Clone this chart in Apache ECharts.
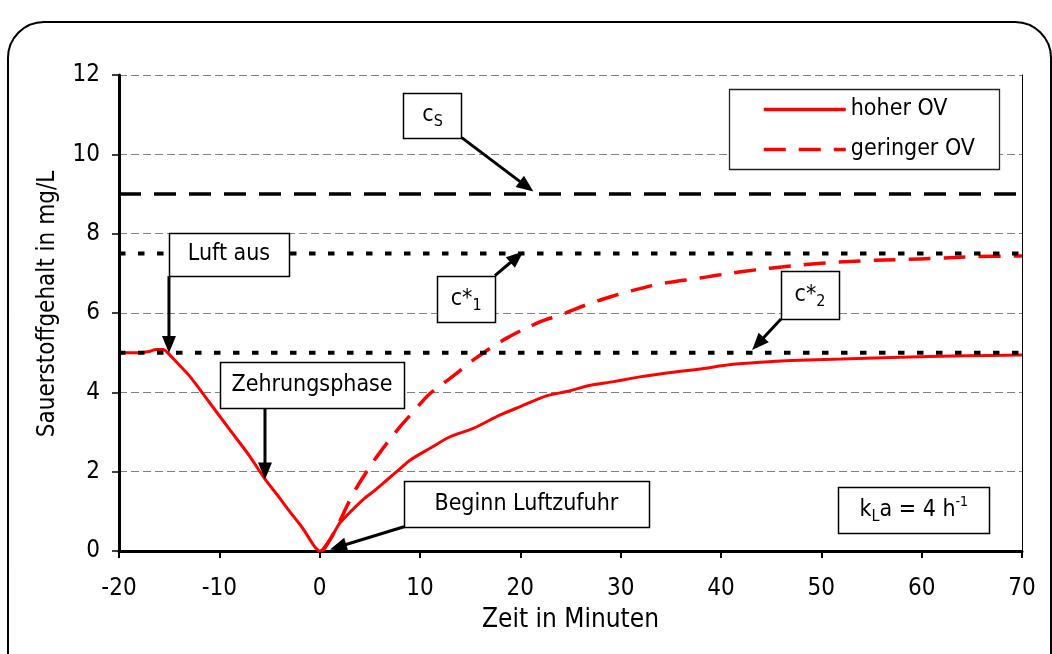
<!DOCTYPE html>
<html>
<head>
<meta charset="utf-8">
<script src="https://cdn.jsdelivr.net/npm/echarts@6/dist/echarts.min.js"></script>
<style>
  html, body { margin: 0; padding: 0; background: #fff; }
  #chart { width: 1052px; height: 654px; }
</style>
</head>
<body>
<div id="chart"></div>
<script>
const FONT = "'DejaVu Sans Condensed', 'Liberation Sans', sans-serif";

// Oxygen concentration after switching off aeration and restarting it (t = 0)
const seriesNames = ['hoher OV', 'geringer OV'];

const timeHigh = [-20, -18, -17, -16.3, -15.6, -15.1, -14.3, -13, -11, -9,
  -7, -5.5, -4, -3, -2, -1.5, -1, -0.5, 0, 0.4,
  1, 2, 3, 4.3, 5.5, 6.7, 8, 9, 11, 13,
  15.3, 18, 20, 22.6, 24.6, 27, 29.3, 31.9, 35, 38,
  41, 44, 47, 52, 57, 64.5, 70];
const oxygenHigh = [5.0, 5.0, 5.03, 5.08, 5.08, 4.98, 4.77, 4.42, 3.75, 3.07,
  2.4, 1.83, 1.34, 1.0, 0.68, 0.5, 0.3, 0.11, 0.0, 0.03,
  0.26, 0.7, 0.97, 1.29, 1.53, 1.79, 2.07, 2.29, 2.59, 2.88,
  3.09, 3.43, 3.64, 3.91, 4.02, 4.18, 4.27, 4.39, 4.5, 4.59,
  4.7, 4.76, 4.8, 4.84, 4.88, 4.92, 4.94];

const timeLow = [0.2, 0.8, 1.4, 2.3, 3.35, 4.5, 5.7, 8, 9.2, 11,
  13, 14.5, 15.6, 18.6, 22, 24, 26.5, 29, 30.9, 34.3,
  37.9, 39.6, 42, 44.9, 48.5, 51.5, 54.5, 58.2, 61.5, 65.2, 70];
const oxygenLow = [0.0, 0.2, 0.45, 0.91, 1.45, 1.93, 2.38, 3.13, 3.47, 3.97,
  4.35, 4.65, 4.87, 5.36, 5.78, 5.95, 6.2, 6.41, 6.55, 6.75,
  6.88, 6.95, 7.04, 7.13, 7.22, 7.28, 7.32, 7.35, 7.38, 7.42, 7.44];

// Reference concentrations in mg/L
const saturation = 9.0;       // c_S
const equilibriumLow = 7.5;   // c*_1
const equilibriumHigh = 5.0;  // c*_2

const timeRange = [-20, 70];
const timeStep = 10;
const oxygenRange = [0, 12];
const oxygenStep = 2;

// Annotation callouts: box corners, arrow tail and arrow tip in data units
const notes = [
  { text: '{m|Luft aus}', box: [[-15.02, 8.02], [-3.06, 6.93]], from: [-15.02, 6.93], to: [-15.02, 4.99] },
  { text: '{m|c}{s|S}', box: [[8.34, 11.55], [14.16, 10.42]], from: [14.16, 10.42], to: [21.3, 9.06] },
  { text: '{m|c*}{s|1}', box: [[11.72, 6.94], [17.47, 5.78]], from: [17.47, 6.94], to: [20.3, 7.55] },
  { text: '{m|Zehrungsphase}', box: [[-9.93, 4.76], [8.41, 3.61]], from: [-5.45, 3.61], to: [-5.45, 1.8] },
  { text: '{m|Beginn Luftzufuhr}', box: [[8.41, 1.77], [32.79, 0.61]], from: [8.41, 0.61], to: [1.03, 0.04] },
  { text: '{m|c*}{s|2}', box: [[45.98, 7.06], [51.76, 5.85]], from: [45.98, 5.85], to: [43.1, 5.07] },
  { text: '{m|k}{s|L}{m|a = 4 h}{p|-1}', box: [[51.69, 1.62], [66.74, 0.45]] }
];

const pairs = (xs, ys) => xs.map((x, i) => [x, ys[i]]);
const flat = (v) => [[timeRange[0], v], [timeRange[1], v]];

const chart = echarts.init(document.getElementById('chart'), null, { renderer: 'canvas' });

const richText = {
  m: { fontSize: 23, fontFamily: FONT, color: '#000', lineHeight: 30, verticalAlign: 'middle' },
  s: { fontSize: 16, fontFamily: FONT, color: '#000', lineHeight: 16, verticalAlign: 'bottom' },
  p: { fontSize: 14, fontFamily: FONT, color: '#000', lineHeight: 14, verticalAlign: 'top' }
};

const refLine = (name, value, width, dash) => ({
  name, type: 'line', data: flat(value), symbol: 'none', silent: true, z: 4,
  lineStyle: { color: '#000', width, type: dash, cap: 'butt' }
});

chart.setOption({
  animation: false,
  backgroundColor: '#fff',
  textStyle: { fontFamily: FONT, color: '#000' },
  grid: { left: 119, right: 30, top: 75, bottom: 103, containLabel: false },
  legend: {
    data: seriesNames,
    orient: 'vertical',
    left: 762, top: 98,
    padding: 0,
    itemWidth: 82, itemHeight: 14, itemGap: 17,
    itemStyle: { opacity: 0 },
    lineStyle: { width: 3.5 },
    textStyle: { fontSize: 23, fontFamily: FONT, color: '#000', padding: [0, 0, 0, 0] }
  },
  xAxis: {
    type: 'value', min: timeRange[0], max: timeRange[1], interval: timeStep,
    name: 'Zeit in Minuten', nameLocation: 'middle', nameGap: 56,
    nameTextStyle: { fontSize: 26, fontFamily: FONT, color: '#000' },
    axisLine: { onZero: false, lineStyle: { color: '#000', width: 3 } },
    axisTick: { length: 7, lineStyle: { color: '#000', width: 2 } },
    axisLabel: { fontSize: 24, fontFamily: FONT, color: '#000', margin: 26 },
    splitLine: { show: false }
  },
  yAxis: [{
    type: 'value', min: oxygenRange[0], max: oxygenRange[1], interval: oxygenStep,
    name: 'Sauerstoffgehalt in mg/L', nameLocation: 'middle', nameGap: 59,
    nameTextStyle: { fontSize: 24, fontFamily: FONT, color: '#000', padding: [0, 0, 0, 18] },
    axisLine: { onZero: false, lineStyle: { color: '#000', width: 3 } },
    axisTick: { length: 7, lineStyle: { color: '#000', width: 1.5 } },
    axisLabel: { fontSize: 24, fontFamily: FONT, color: '#000', margin: 19 },
    splitLine: { lineStyle: { color: '#808080', width: 1, type: [8, 4] } }
  }, {
    type: 'value', position: 'right', min: oxygenRange[0], max: oxygenRange[1], interval: oxygenStep,
    axisLine: { show: true, onZero: false, lineStyle: { color: '#000', width: 1 } },
    axisTick: { show: false }, axisLabel: { show: false }, splitLine: { show: false }
  }],
  series: [
    {
      name: seriesNames[0], type: 'line', data: pairs(timeHigh, oxygenHigh),
      symbol: 'none', smooth: 0.3, z: 3,
      lineStyle: { color: '#ff0000', width: 3 }, itemStyle: { color: '#ff0000' }
    },
    {
      name: seriesNames[1], type: 'line', data: pairs(timeLow, oxygenLow),
      symbol: 'none', smooth: 0.35, z: 3,
      lineStyle: { color: '#ff0000', width: 3.5, type: [22, 13], cap: 'butt' }, itemStyle: { color: '#ff0000' }
    },
    refLine('cS', saturation, 3.5, [22, 13]),
    refLine('c*1', equilibriumLow, 4, [6.5, 12.5]),
    refLine('c*2', equilibriumHigh, 4, [6.5, 12.5])
  ]
});

// Callout boxes, arrows, legend frame and the outer rounded border
function toPx(p) { return chart.convertToPixel({ xAxisIndex: 0, yAxisIndex: 0 }, p); }

function arrow(a, b) {
  const dx = b[0] - a[0], dy = b[1] - a[1];
  const len = Math.hypot(dx, dy), ux = dx / len, uy = dy / len;
  const hl = 17, hw = 7;
  const bx = b[0] - ux * hl, by = b[1] - uy * hl;
  return [
    { type: 'line', z: 20, shape: { x1: a[0], y1: a[1], x2: bx + ux * 2, y2: by + uy * 2 },
      style: { stroke: '#000', lineWidth: 3 } },
    { type: 'polygon', z: 20, shape: { points: [[b[0], b[1]], [bx - uy * hw, by + ux * hw], [bx + uy * hw, by - ux * hw]] },
      style: { fill: '#000' } }
  ];
}

const elements = [];
notes.forEach((n) => {
  const p1 = toPx(n.box[0]), p2 = toPx(n.box[1]);
  if (n.from) elements.push(...arrow(toPx(n.from), toPx(n.to)));
  elements.push({
    type: 'rect', z: 30,
    shape: { x: Math.round(p1[0]) + 0.5, y: Math.round(p1[1]) + 0.5, width: Math.round(p2[0] - p1[0]), height: Math.round(p2[1] - p1[1]) },
    style: { fill: '#fff', stroke: '#000', lineWidth: 1.5 }
  });
  elements.push({
    type: 'text', z: 31,
    x: (p1[0] + p2[0]) / 2, y: (p1[1] + p2[1]) / 2,
    style: { text: n.text, rich: richText, align: 'center', verticalAlign: 'middle' }
  });
});

// Legend frame
elements.push({
  type: 'rect', z: 1,
  shape: { x: 729.5, y: 89.5, width: 270, height: 80 },
  style: { fill: '#fff', stroke: '#222', lineWidth: 1.3 }
});

// Outer rounded frame
elements.push({
  type: 'rect', z: 0, silent: true,
  shape: { x: 8, y: 22, width: 1043, height: 700, r: 36 },
  style: { fill: 'none', stroke: '#000', lineWidth: 2 }
});

chart.setOption({ graphic: { elements } });
</script>
</body>
</html>
